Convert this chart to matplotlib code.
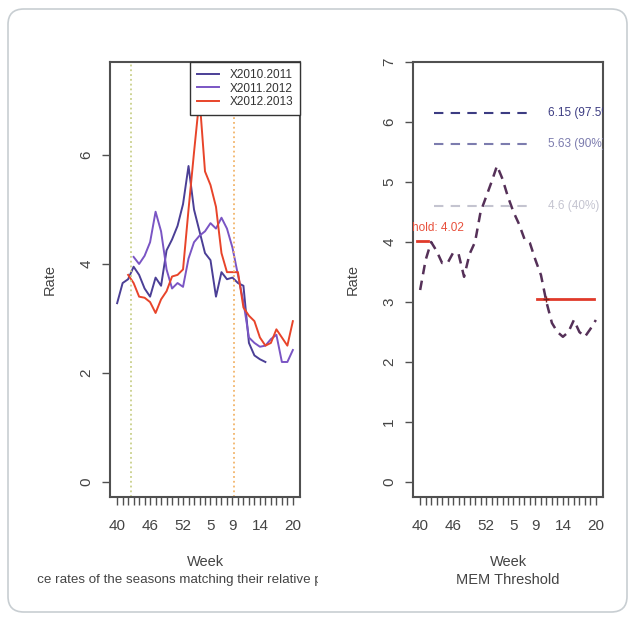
import numpy as np
import matplotlib
matplotlib.use('agg')
import matplotlib.pyplot as plt
from matplotlib.patches import FancyBboxPatch
from matplotlib.transforms import Bbox, TransformedBbox

plt.rcParams['font.family'] = ['Liberation Sans', 'DejaVu Sans']

nan = np.nan

# weeks of the season, 40..52 then 1..20
weeks = list(range(40, 53)) + list(range(1, 21))
week_labels = [40, 46, 52, 5, 9, 14, 20]

season_names = ['X2010.2011', 'X2011.2012', 'X2012.2013']
season_colors = ['#4b3f96', '#7a55c4', '#e8442a']

s2010 = [3.28, 3.65, 3.72, 3.95, 3.8, 3.55, 3.4, 3.75, 3.6, 4.25, 4.45, 4.7, 5.1, 5.8,
         5.0, 4.6, 4.2, 4.07, 3.4, 3.85, 3.72, 3.75, 3.65, 3.6, 2.55, 2.32, 2.25, 2.2,
         nan, nan, nan, nan, nan]
s2011 = [nan, nan, nan, 4.13, 4.0, 4.15, 4.4, 4.96, 4.6, 3.9, 3.55, 3.65, 3.58, 4.1,
         4.4, 4.52, 4.6, 4.75, 4.65, 4.85, 4.65, 4.3, 3.8, 3.3, 2.65, 2.55, 2.48, 2.5,
         2.62, 2.7, 2.2, 2.2, 2.42]
s2012 = [nan, nan, 3.8, 3.65, 3.4, 3.38, 3.3, 3.1, 3.35, 3.5, 3.77, 3.8, 3.9, 5.0,
         6.05, 7.05, 5.7, 5.45, 5.05, 4.2, 3.85, 3.85, 3.85, 3.2, 3.05, 2.95, 2.65, 2.5,
         2.55, 2.8, 2.65, 2.5, 2.95]
season_start = 2.5
season_end = 21.2

# MEM panel
mem_curve = [3.2, 3.7, 4.0, 3.85, 3.65, 3.65, 3.82, 3.8, 3.42, 3.8, 4.0, 4.5, 4.75, 5.0,
             5.27, 5.05, 4.75, 4.5, 4.3, 4.05, 3.98, 3.7, 3.45, 3.0, 2.65, 2.5, 2.42, 2.5,
             2.7, 2.5, 2.42, 2.55, 2.7]
epi_threshold = 4.02
post_threshold = 3.05
intensity = [6.15, 5.63, 4.6]
intensity_labels = ['6.15 (97.5%)', '5.63 (90%)', '4.6 (40%)']
intensity_colors = ['#3c3c82', '#7c7cae', '#c4c4d0']

TXT = '#444444'
x = np.arange(len(weeks))

fig = plt.figure(figsize=(6.35, 6.21), dpi=100)
fig.patch.set_facecolor('white')
frame = FancyBboxPatch((8 / 635, 9 / 621), 619 / 635, 603 / 621,
                       boxstyle='round,pad=0,rounding_size=0.025',
                       transform=fig.transFigure, facecolor='none',
                       edgecolor='#c8ced2', linewidth=1.2, zorder=-10)
fig.patches.append(frame)

axL = fig.add_axes([110 / 635, 124 / 621, 190 / 635, 435 / 621])
axR = fig.add_axes([413 / 635, 124 / 621, 190 / 635, 435 / 621])


def style_axis(ax, ylim, yticks):
    ax.set_xlim(-1.3, len(weeks) - 1 + 1.3)
    ax.set_ylim(*ylim)
    ax.set_yticks(yticks)
    ax.set_yticklabels([str(t) for t in yticks], rotation=90, va='center')
    ax.set_xticks(x)
    ax.set_xticklabels([str(w) if w in week_labels else '' for w in weeks])
    for s in ax.spines.values():
        s.set_color('#505050')
        s.set_linewidth(1.5)
    ax.tick_params(direction='out', length=6, width=1, color='#505050',
                   labelcolor=TXT, labelsize=11)
    ax.tick_params(axis='y', pad=6)
    ax.tick_params(axis='x', pad=10)
    ax.set_ylabel('Rate', fontsize=10.5, color=TXT, labelpad=16)
    ax.set_xlabel('Week', fontsize=10.5, color=TXT, labelpad=16)


# left panel: seasons
for vals, name, col in zip([s2010, s2011, s2012], season_names, season_colors):
    axL.plot(x, vals, color=col, lw=1.4, label=name)
axL.axvline(season_start, color='#c9d08a', ls=':', lw=1.3)
axL.axvline(season_end, color='#f2b46a', ls=':', lw=1.3)
style_axis(axL, (-0.28, 7.71), [0, 2, 4, 6])
leg = axL.legend(loc='upper right', fontsize=8.5, borderaxespad=0, fancybox=False,
                 handlelength=1.9, handletextpad=0.85, labelspacing=0.12,
                 borderpad=0.6, framealpha=1)
leg.get_frame().set_edgecolor('#333333')
leg.get_frame().set_linewidth(1.0)
for t in leg.get_texts():
    t.set_color('#333333')

sub = fig.text(-6 / 635, 41 / 621,
               'Incidence rates of the seasons matching their relative position',
               ha='left', va='center', fontsize=9.6, color=TXT)
sub.set_clip_box(TransformedBbox(Bbox.from_extents(37 / 635, 0, 318 / 635, 1),
                                 fig.transFigure))
sub.set_clip_on(True)

# right panel: MEM threshold
axR.plot(x, mem_curve, color='#553058', lw=1.8, ls=(0, (3.8, 2.6)))
for lvl, lab, col in zip(intensity, intensity_labels, intensity_colors):
    axR.plot([2.5, 20.7], [lvl, lvl], color=col, lw=1.5, ls=(0, (4.5, 3.5)))
    axR.text(23.2, lvl, lab, color=col, fontsize=8.5, va='center', ha='left',
             clip_on=True)
axR.plot([-0.6, 1.5], [epi_threshold, epi_threshold], color='#e03a2a', lw=2)
axR.text(8.0, 4.24, 'Threshold: 4.02', color='#e8503c', fontsize=8.5,
         ha='right', va='center', clip_on=True)
axR.plot([21.2, 31.6], [post_threshold, post_threshold], color='#e03a2a', lw=2)
axR.plot([23], [post_threshold], marker='+', color='#802020', ms=5, mew=1)
style_axis(axR, (-0.25, 7.0), [0, 1, 2, 3, 4, 5, 6, 7])
fig.text(508 / 635, 41 / 621, 'MEM Threshold', ha='center', va='center',
         fontsize=10.5, color=TXT)

fig.savefig('out.png', dpi=100)
